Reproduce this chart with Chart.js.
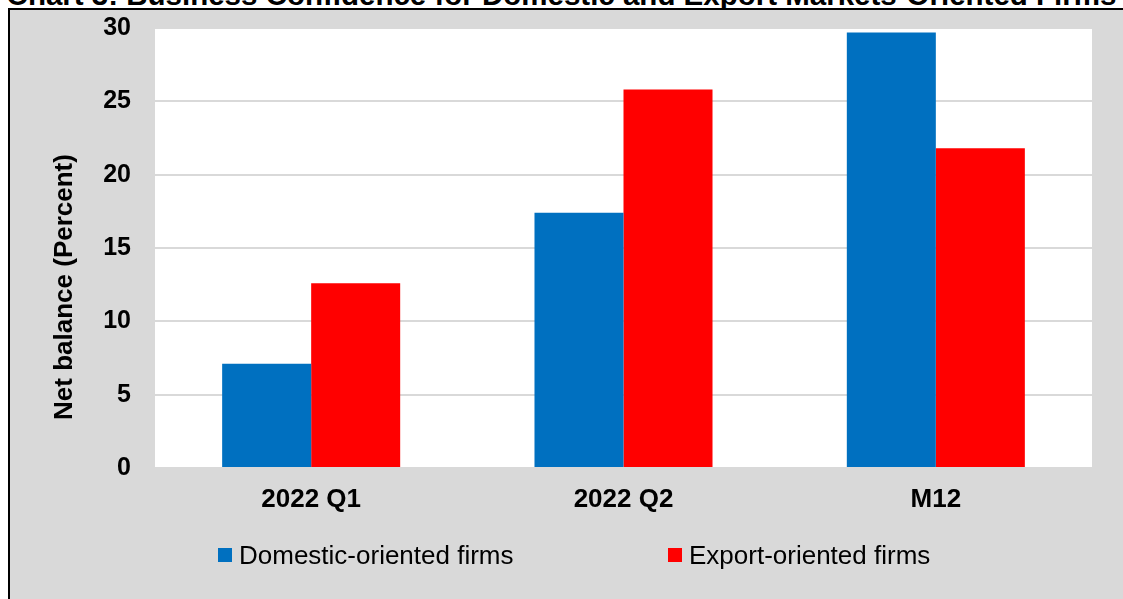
<!DOCTYPE html>
<html>
<head>
<meta charset="utf-8">
<script src="https://cdn.jsdelivr.net/npm/chart.js@4.4.0/dist/chart.umd.min.js"></script>
<style>
    html, body { margin: 0; padding: 0; background: #fff; width: 1123px; height: 599px; overflow: hidden; font-family: Arial, "Liberation Sans", sans-serif; }
    #title { position: absolute; left: 0; top: -20px; width: 1123px; text-align: center; font-weight: bold; font-size: 29.5px; line-height: 30px; white-space: nowrap; color: #000; }
    #frame { position: absolute; left: 8px; top: 8px; width: 1113px; height: 589px; border-left: 2px solid #000; border-top: 2px solid #000; background: #d9d9d9; }
    #wrap { position: absolute; left: 0; top: 0; width: 1113px; height: 589px; }
    .legend-item { position: absolute; top: 531px; height: 28px; display: flex; align-items: center; font-size: 26px; line-height: 28px; color: #000; white-space: nowrap; }
    .legend-item span.box { width: 14px; height: 14px; margin-right: 7px; display: inline-block; }
</style>
</head>
<body>
<div id="title">Chart 3: Business Confidence for Domestic and Export Markets-Oriented Firms</div>
<div id="frame">
    <div id="wrap"><canvas id="chart"></canvas></div>
    <div class="legend-item" style="left:208px"><span class="box" style="background:#0070c0"></span>Domestic-oriented firms</div>
    <div class="legend-item" style="left:658px"><span class="box" style="background:#ff0000"></span>Export-oriented firms</div>
</div>
<script>
// chart data
const categories = ['2022 Q1', '2022 Q2', 'M12'];
const domestic = [7.1, 17.4, 29.7];
const exportOriented = [12.6, 25.8, 21.8];
const yTitle = 'Net balance (Percent)';

// white plot area on the grey chart background
const plotBg = {
    id: 'plotBg',
    beforeDraw(chart) {
        const { ctx, chartArea: a } = chart;
        ctx.save();
        ctx.fillStyle = '#fff';
        ctx.fillRect(a.left, a.top, a.width, a.height);
        ctx.restore();
    }
};

// y title sits lower than the plot centre in the original
const yTitlePlugin = {
    id: 'yTitle',
    afterDraw(chart) {
        const ctx = chart.ctx;
        ctx.save();
        ctx.translate(62, 277);
        ctx.rotate(-Math.PI / 2);
        ctx.font = 'bold 26px Arial, "Liberation Sans", sans-serif';
        ctx.fillStyle = '#000';
        ctx.textAlign = 'center';
        ctx.textBaseline = 'alphabetic';
        ctx.fillText(yTitle, 0, 0);
        ctx.restore();
    }
};

new Chart(document.getElementById('chart'), {
    type: 'bar',
    data: {
        labels: categories,
        datasets: [
            { label: 'Domestic-oriented firms', data: domestic, backgroundColor: '#0070c0' },
            { label: 'Export-oriented firms', data: exportOriented, backgroundColor: '#ff0000' }
        ]
    },
    options: {
        responsive: true,
        maintainAspectRatio: false,
        animation: false,
        layout: { padding: { left: 0, right: 31, top: 18, bottom: 84 } },
        datasets: { bar: { categoryPercentage: 0.57, barPercentage: 1.0, borderWidth: 0 } },
        plugins: { legend: { display: false }, tooltip: { enabled: false } },
        scales: {
            x: {
                afterFit: (s) => { s.height = 47; },
                grid: { display: false },
                border: { display: false },
                ticks: { color: '#000', padding: 8, font: { family: 'Arial, "Liberation Sans", sans-serif', size: 26, weight: 'bold' } }
            },
            y: {
                min: 0,
                max: 30,
                afterFit: (s) => { s.width = 145; s.paddingTop = 0; s.paddingBottom = 0; },
                grid: { color: '#d9d9d9', lineWidth: 2, drawTicks: false },
                border: { display: false },
                ticks: { stepSize: 5, color: '#000', padding: 24, font: { family: 'Arial, "Liberation Sans", sans-serif', size: 25, weight: 'bold' } }
            }
        }
    },
    plugins: [plotBg, yTitlePlugin]
});
</script>
</body>
</html>
